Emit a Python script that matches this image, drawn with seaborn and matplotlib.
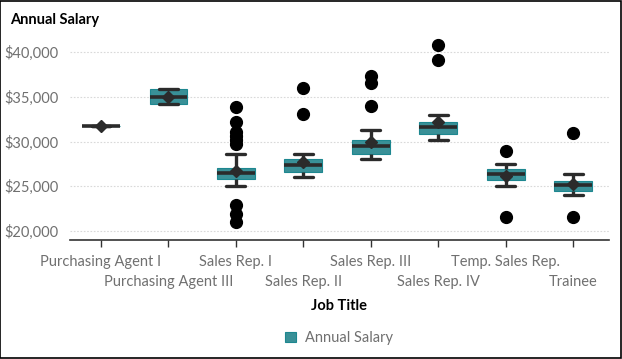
import numpy as np
import pandas as pd
import matplotlib
matplotlib.use("Agg")
import matplotlib.pyplot as plt
import seaborn as sns
from matplotlib.ticker import FuncFormatter

# Salaries (box = quartiles, dots = outliers)
purchasing_agent_1 = [31700]
purchasing_agent_3 = [34200, 34200, 35000, 35900, 35900]
sales_rep_1 = [20940, 21910, 22880,
               25010, 25100, 25200, 25300, 25450, 25600, 25720,
               25790, 25820, 25860, 25900, 25950, 26000, 26100, 26200, 26300, 26400,
               26460, 26480, 26500, 26530, 26560, 26600, 26650, 26700, 26800, 26900,
               27020, 27100, 27300, 27700, 28590,
               29700, 30150, 30600, 31050, 32200, 33850]
sales_rep_2 = [26010, 26100, 26200, 26300, 26400, 26480, 26540,
               26570, 26800, 26950, 27050, 27150, 27250, 27320,
               27350, 27400, 27500, 27600, 27700, 27850, 27980,
               28030, 28060, 28100, 28150, 28200, 28590,
               33050, 35970]
sales_rep_3 = [28030, 28100, 28150, 28250, 28300, 28400, 28450, 28520,
               28590, 28800, 28900, 29000, 29100, 29200, 29300, 29400,
               29480, 29520, 29600, 29650, 29700, 29750, 29850, 30000,
               30150, 30200, 30250, 30350, 30450, 31270,
               33960, 36530, 37310]
sales_rep_4 = [30150, 30300, 30400, 30500, 30600, 30820, 31000, 31100, 31200,
               31400, 31610, 31700, 31800, 31900, 32000, 32170, 32400, 32600,
               32950, 39100, 40780]
temp_sales_rep = [21540, 25000, 25200, 25450, 25680, 25850, 26050, 26200,
                  26350, 26500, 26650, 26800, 26910, 27050, 27200, 27470, 28900]
trainee = [21540, 24000, 24150, 24300, 24450, 24650, 24800, 24950,
           25120, 25250, 25350, 25450, 25570, 25800, 26050, 26350, 30940]

job_titles = ["Purchasing Agent I", "Purchasing Agent III", "Sales Rep. I",
              "Sales Rep. II", "Sales Rep. III", "Sales Rep. IV",
              "Temp. Sales Rep.", "Trainee"]
salaries = [purchasing_agent_1, purchasing_agent_3, sales_rep_1, sales_rep_2,
            sales_rep_3, sales_rep_4, temp_sales_rep, trainee]
y_ticks = [20000, 25000, 30000, 35000, 40000]

rows = []
for title, vals in zip(job_titles, salaries):
    for v in vals:
        rows.append({"Job Title": title, "Salary": v, "Measure": "Annual Salary"})
df = pd.DataFrame(rows)

teal = "#2a9da6"
dark = "#2b2b2b"
gray = "#707070"

sns.set_style("white")
plt.rcParams["font.family"] = ["Lato", "DejaVu Sans"]

fig = plt.figure(figsize=(6.22, 3.59), dpi=100)
ax = fig.add_axes([0.1125, 0.3315, 0.8665, 0.5625])

sns.boxplot(data=df, x="Job Title", y="Salary", hue="Measure", order=job_titles,
            palette=[teal], width=0.56, ax=ax, showmeans=True, whis=1.5,
            boxprops=dict(edgecolor="#1d8790", linewidth=0.8),
            medianprops=dict(color=dark, linewidth=2.6),
            whiskerprops=dict(color=dark, linewidth=2.4),
            capprops=dict(color=dark, linewidth=2.4),
            flierprops=dict(marker="o", markerfacecolor="black",
                            markeredgecolor="black", markersize=8.5),
            meanprops=dict(marker="D", markerfacecolor=dark,
                           markeredgecolor=dark, markersize=6))

ax.set_ylim(18960, 41600)
ax.set_xlim(-0.46, 7.53)
ax.set_yticks(y_ticks)
ax.yaxis.set_major_formatter(FuncFormatter(lambda v, p: "${:,.0f}".format(v)))
ax.yaxis.grid(True, linestyle=(0, (1.5, 1.5)), color="#d9d9d9", linewidth=0.8)
ax.set_axisbelow(True)
for s in ["left", "top", "right"]:
    ax.spines[s].set_visible(False)
ax.spines["bottom"].set_color("#333333")
ax.spines["bottom"].set_linewidth(1.2)

ax.tick_params(axis="y", length=0, pad=8, labelsize=10.5, labelcolor=gray)
ax.tick_params(axis="x", length=5, width=1, color="#333333", pad=6,
               labelsize=10.5, labelcolor=gray, direction="out", bottom=True)
for i, lbl in enumerate(ax.get_xticklabels()):
    if i % 2 == 1:
        lbl.set_y(-0.1)

ax.set_ylabel("")
ax.set_xlabel("Job Title", fontsize=10.5, fontweight="bold", color="black")
ax.xaxis.set_label_coords(0.5, -0.325)
ax.xaxis.label.set_va("center")

fig.text(0.016, 0.944, "Annual Salary", fontsize=10.5, fontweight="bold",
         color="black", va="center", ha="left")

sns.move_legend(ax, "center", bbox_to_anchor=(0.545, 0.058),
                bbox_transform=fig.transFigure, title=None, frameon=False,
                fontsize=10.5, handlelength=0.75, handleheight=0.75,
                handletextpad=0.6)
for t in ax.get_legend().get_texts():
    t.set_color(gray)

fig.patches.append(plt.Rectangle((0.0008, 0.0014), 0.998, 0.997,
                                 transform=fig.transFigure, fill=False,
                                 edgecolor="black", linewidth=1.2))

fig.savefig("out.png", dpi=100)
